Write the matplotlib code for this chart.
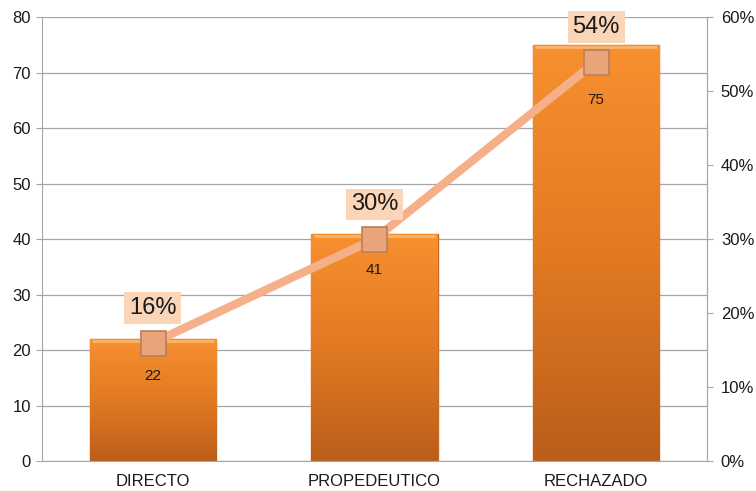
import numpy as np
import matplotlib.pyplot as plt
from matplotlib.colors import LinearSegmentedColormap
from matplotlib.ticker import PercentFormatter

categories = ["DIRECTO", "PROPEDEUTICO", "RECHAZADO"]
counts = [22, 41, 75]
shares = [0.16, 0.30, 0.54]

plt.rcParams['font.family'] = ['Liberation Sans Narrow', 'Liberation Sans', 'DejaVu Sans']

fig = plt.figure(figsize=(7.56, 4.91), dpi=100)
ax = fig.add_axes([0.0556, 0.061, 0.8795, 0.904])
x = np.arange(len(categories))
width = 0.57

ax.set_xlim(-0.5, 2.5)
ax.set_ylim(0, 80)
ax.set_yticks(range(0, 81, 10))
ax.grid(axis='y', color='#a6a6a6', linewidth=0.9)
ax.set_axisbelow(True)

# orange bars with a vertical gradient
cmap = LinearSegmentedColormap.from_list('bar', ['#bb5e1b', '#e27a22', '#f79030'])
grad = np.linspace(0, 1, 256).reshape(-1, 1)
bars = ax.bar(x, counts, width, color='#ef8a2a', edgecolor='#c8691f', linewidth=1.0, zorder=2)
for b in bars:
    bx, by = b.get_x(), b.get_y()
    bw, bh = b.get_width(), b.get_height()
    im = ax.imshow(grad, cmap=cmap, aspect='auto', origin='lower',
                   extent=[bx, bx + bw, by, by + bh], zorder=2.1)
    im.set_clip_path(b)
    # light bevel along the top edge
    ax.plot([bx + 0.01, bx + bw - 0.01], [by + bh - 0.4, by + bh - 0.4],
            color='#fbb46a', linewidth=2, zorder=2.2, solid_capstyle='butt')
ax.set_aspect('auto')

label_offsets = [-27, -26, -40]
for xi, c, off in zip(x, counts, label_offsets):
    ax.annotate(str(c), (xi, c), xytext=(0, off), textcoords='offset points',
                ha='center', va='center', fontsize=11, color='#1a1a1a', zorder=6)

ax.set_xticks(x)
ax.set_xticklabels(categories, fontsize=12, color='#1a1a1a')
ax.tick_params(axis='x', length=0, pad=9)
ax.tick_params(axis='y', labelsize=12, length=4, color='#a6a6a6', pad=4, labelcolor='#1a1a1a')
ax.spines['top'].set_visible(False)
for s in ['left', 'bottom', 'right']:
    ax.spines[s].set_color('#a6a6a6')

ax2 = ax.twinx()
ax2.set_ylim(0, 0.6)
ax2.set_yticks(np.arange(0, 0.61, 0.1))
ax2.yaxis.set_major_formatter(PercentFormatter(1.0, decimals=0))
ax2.tick_params(axis='y', labelsize=12, length=4, color='#a6a6a6', pad=6, labelcolor='#1a1a1a')
for s in ['top', 'left', 'bottom']:
    ax2.spines[s].set_visible(False)
ax2.spines['right'].set_color('#a6a6a6')

ax2.plot(x, shares, color='#f5b08a', linewidth=6, solid_capstyle='butt', zorder=3)
ax2.plot(x, shares, linestyle='none', marker='s', markersize=18,
         markerfacecolor='#e9a47c', markeredgecolor='#b8805e', markeredgewidth=1.2, zorder=4)
for xi, s in zip(x, shares):
    ax2.annotate(f"{round(s * 100)}%", (xi, s), xytext=(0, 25), textcoords='offset points',
                 ha='center', va='center', fontsize=17, color='#1a1a1a',
                 bbox=dict(boxstyle='square,pad=0.2', facecolor='#fbd5b8', edgecolor='none'),
                 zorder=5)

fig.savefig('out.png', dpi=100)
